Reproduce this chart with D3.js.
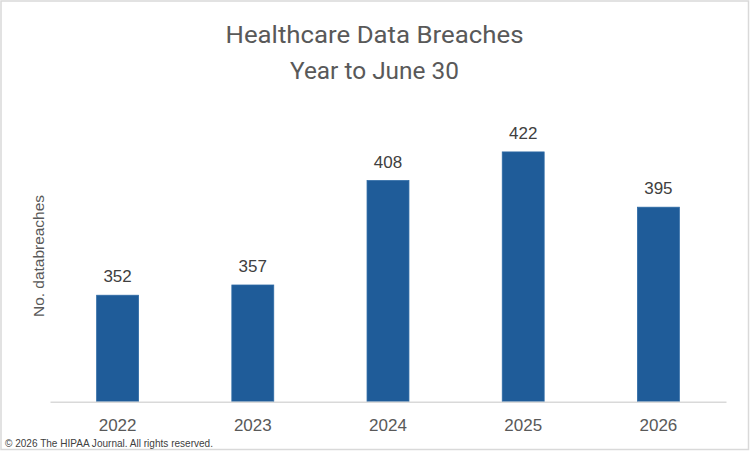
<!DOCTYPE html>
<html>
<head>
<meta charset="utf-8">
<script src="https://cdn.jsdelivr.net/npm/d3@7/dist/d3.min.js"></script>
<style>
  html, body { margin: 0; padding: 0; background: #fff; }
  svg { display: block; }
</style>
</head>
<body>
<div id="chart"></div>
<script>
const categories = ["2022", "2023", "2024", "2025", "2026"];
const values = [352, 357, 408, 422, 395];
const titleLines = ["Healthcare Data Breaches", "Year to June 30"];
const yAxisTitle = "No. databreaches";
const footnote = "\u00A9 2026 The HIPAA Journal. All rights reserved.";
const yDomain = [300, 450];

const W = 750, H = 451;
const plot = { left: 50, right: 726, top: 94.6, bottom: 401.7 };

const svg = d3.select("#chart").append("svg")
  .attr("width", W).attr("height", H);

svg.append("rect")
  .attr("x", 1).attr("y", 1).attr("width", W - 2.5).attr("height", H - 2.5)
  .attr("fill", "#fff").attr("stroke", "#d9d9d9").attr("stroke-width", 1.5);

const x = d3.scaleBand().domain(categories)
  .range([plot.left, plot.right]).paddingInner(0.69).paddingOuter(0.345);
const y = d3.scaleLinear().domain(yDomain).range([plot.bottom, plot.top]);

// title
const titleFont = "'Liberation Sans Narrow', Roboto, 'Noto Sans', sans-serif";
const titleW = [298, 169];
const titleY = [42.5, 78.5];
titleLines.forEach((t, i) => {
  svg.append("text")
    .attr("x", 374.5).attr("y", titleY[i])
    .attr("text-anchor", "middle")
    .attr("font-family", titleFont)
    .attr("font-size", 24.5)
    .attr("fill", "#595959")
    .attr("textLength", titleW[i])
    .attr("lengthAdjust", "spacingAndGlyphs")
    .text(t);
});

// bars
svg.append("g").selectAll("rect")
  .data(values)
  .join("rect")
  .attr("x", (d, i) => x(categories[i]))
  .attr("y", d => y(d))
  .attr("width", x.bandwidth())
  .attr("height", d => y(yDomain[0]) - y(d))
  .attr("fill", "#1f5c99")
  .attr("stroke", "#2e6aa5")
  .attr("stroke-width", 0.8);

// x axis
const xAxis = d3.axisBottom(x).tickSize(0).tickPadding(17);
const gx = svg.append("g")
  .attr("transform", `translate(0,${plot.bottom})`)
  .call(xAxis);
gx.select(".domain").attr("stroke", "#d9d9d9").attr("stroke-width", 1.5);
gx.selectAll("text")
  .attr("font-family", "'Liberation Sans', Arial, sans-serif")
  .attr("font-size", 17)
  .attr("fill", "#595959");

// data labels
svg.append("g").selectAll("text")
  .data(values)
  .join("text")
  .attr("x", (d, i) => x(categories[i]) + x.bandwidth() / 2)
  .attr("y", d => y(d) - 13)
  .attr("text-anchor", "middle")
  .attr("font-family", "'Liberation Sans', Arial, sans-serif")
  .attr("font-size", 17)
  .attr("fill", "#404040")
  .text(d => d);

// y axis title
svg.append("text")
  .attr("transform", "translate(43.5,256) rotate(-90)")
  .attr("text-anchor", "middle")
  .attr("font-family", "'Liberation Sans', Arial, sans-serif")
  .attr("font-size", 15)
  .attr("fill", "#595959")
  .attr("textLength", 122)
  .attr("lengthAdjust", "spacingAndGlyphs")
  .text(yAxisTitle);

// footnote
svg.append("text")
  .attr("x", 5).attr("y", 447)
  .attr("font-family", "'Liberation Sans', Arial, sans-serif")
  .attr("font-size", 10.5)
  .attr("fill", "#404040")
  .attr("textLength", 208)
  .attr("lengthAdjust", "spacingAndGlyphs")
  .text(footnote);
</script>
</body>
</html>
